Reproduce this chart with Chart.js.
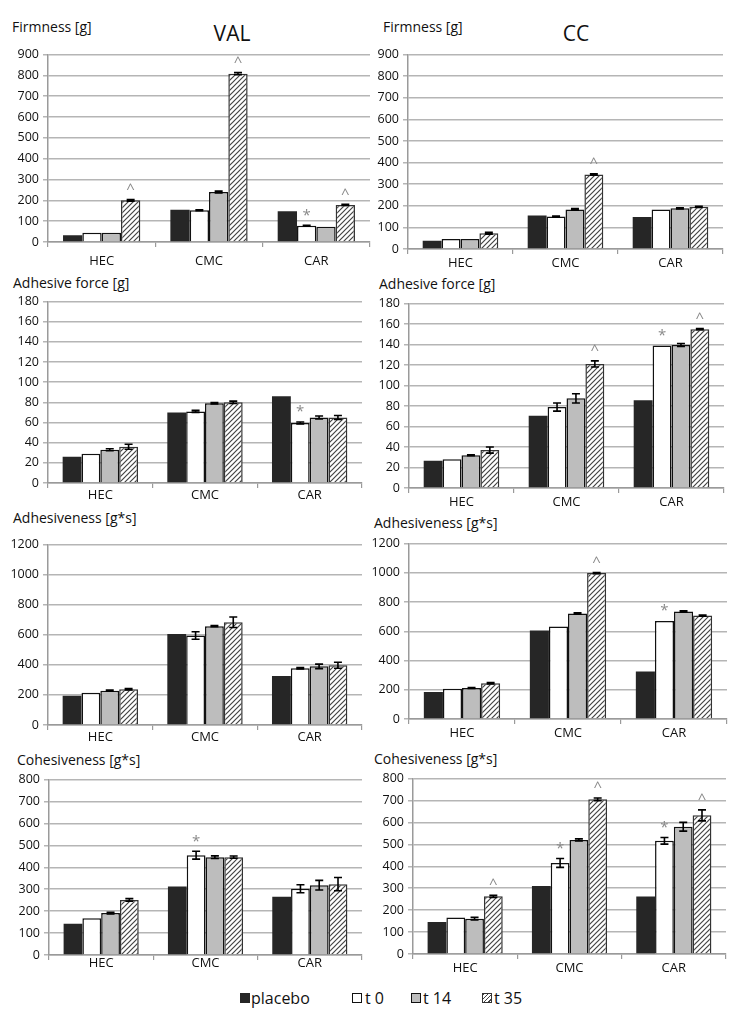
<!DOCTYPE html>
<html>
<head>
<meta charset="utf-8">
<script src="https://cdn.jsdelivr.net/npm/chart.js@4.4.0/dist/chart.umd.min.js"></script>
<style>
body { margin: 0; background: #fff; width: 742px; height: 1019px; position: relative; overflow: hidden; font-family: 'Open Sans', sans-serif; color: #111; }
canvas { position: absolute; }
.lbl { position: absolute; font-size: 14px; line-height: 20px; white-space: nowrap; }
.head { position: absolute; font-size: 21px; line-height: 28px; transform: translateX(-50%); }
.leg { position: absolute; top: 988px; font-size: 16px; line-height: 20px; white-space: nowrap; }
.sw { position: absolute; width: 10px; height: 10px; top: 993px; box-sizing: border-box; }
</style>
</head>
<body>

<div class="head" style="left:232px;top:19px">VAL</div>
<div class="head" style="left:576px;top:19px">CC</div>

<div class="lbl" style="left:12px;top:17px">Firmness [g]</div>
<div class="lbl" style="left:383px;top:17px">Firmness [g]</div>
<div class="lbl" style="left:13px;top:273px">Adhesive force [g]</div>
<div class="lbl" style="left:379px;top:274px">Adhesive force [g]</div>
<div class="lbl" style="left:13px;top:508px">Adhesiveness [g*s]</div>
<div class="lbl" style="left:374px;top:513px">Adhesiveness [g*s]</div>
<div class="lbl" style="left:17px;top:750px">Cohesiveness [g*s]</div>
<div class="lbl" style="left:374px;top:749px">Cohesiveness [g*s]</div>

<canvas id="c1"></canvas>
<canvas id="c2"></canvas>
<canvas id="c3"></canvas>
<canvas id="c4"></canvas>
<canvas id="c5"></canvas>
<canvas id="c6"></canvas>
<canvas id="c7"></canvas>
<canvas id="c8"></canvas>

<div class="sw" style="left:240px;background:#262626"></div>
<div class="leg" style="left:251px">placebo</div>
<div class="sw" style="left:352px;background:#fff;border:1.5px solid #111"></div>
<div class="leg" style="left:365px">t 0</div>
<div class="sw" style="left:411px;background:#bdbdbd;border:1.5px solid #111"></div>
<div class="leg" style="left:423px">t 14</div>
<div class="sw" style="left:482px;border:1.5px solid #333;background:repeating-linear-gradient(135deg,#444 0 1px,#fff 1px 3px)"></div>
<div class="leg" style="left:494px">t 35</div>

<script>
const categories = ['HEC', 'CMC', 'CAR'];
const seriesNames = ['placebo', 't 0', 't 14', 't 35'];

// values: rows are placebo, t 0, t 14, t 35
const valFirmness = [[33, 155, 148], [45, 152, 78], [45, 240, 73], [200, 808, 178]];
const valFirmnessErr = [[0, 0, 0], [0, 2, 2], [0, 4, 0], [4, 5, 3]];
const valFirmnessMarks = [['', '', ''], ['', '', '*'], ['', '', ''], ['^', '^', '^']];

const ccFirmness = [[38, 155, 148], [46, 150, 183], [46, 183, 188], [73, 345, 195]];
const ccFirmnessErr = [[0, 0, 0], [0, 3, 0], [0, 4, 3], [4, 3, 3]];
const ccFirmnessMarks = [['', '', ''], ['', '', ''], ['', '', ''], ['', '^', '']];

const valAdhForce = [[26, 70, 86], [29, 71, 59.5], [33, 79, 65], [36, 80, 65]];
const valAdhForceErr = [[0, 0, 0], [0, 1, 1], [1, 0.7, 1.5], [2.5, 1.2, 2]];
const valAdhForceMarks = [['', '', ''], ['', '', '*'], ['', '', ''], ['', '', '']];

const ccAdhForce = [[26.5, 70.5, 85.5], [28, 79, 139], [32, 87.5, 139.5], [37, 121, 155]];
const ccAdhForceErr = [[0, 0, 0], [0, 4, 0], [0.5, 4.5, 1.5], [3, 3, 0.6]];
const ccAdhForceMarks = [['', '', ''], ['', '', '*'], ['', '', ''], ['', '^', '^']];

const valAdhesiveness = [[195, 605, 325], [215, 595, 377], [228, 657, 390], [238, 683, 397]];
const valAdhesivenessErr = [[0, 0, 0], [0, 25, 5], [4, 4, 15], [5, 35, 20]];
const valAdhesivenessMarks = [['', '', ''], ['', '', ''], ['', '', ''], ['', '', '']];

const ccAdhesiveness = [[185, 605, 325], [207, 632, 670], [212, 722, 735], [244, 998, 707]];
const ccAdhesivenessErr = [[0, 0, 0], [0, 0, 0], [3, 5, 5], [5, 4, 4]];
const ccAdhesivenessMarks = [['', '', ''], ['', '', '*'], ['', '', ''], ['', '^', '']];

const valCohesiveness = [[143, 312, 266], [168, 455, 302], [191, 446, 318], [251, 446, 323]];
const valCohesivenessErr = [[0, 0, 0], [0, 18, 18], [4, 6, 22], [6, 5, 30]];
const valCohesivenessMarks = [['', '', ''], ['', '*', ''], ['', '', ''], ['', '', '']];

const ccCohesiveness = [[146, 310, 262], [166, 415, 516], [161, 520, 580], [263, 705, 632]];
const ccCohesivenessErr = [[0, 0, 0], [0, 20, 15], [6, 5, 20], [5, 6, 25]];
const ccCohesivenessMarks = [['', '', ''], ['', '*', '*'], ['', '', ''], ['^', '^', '^']];

function hatch() {
    const c = document.createElement('canvas');
    c.width = 5; c.height = 5;
    const g = c.getContext('2d');
    g.fillStyle = '#fff';
    g.fillRect(0, 0, 5, 5);
    g.strokeStyle = '#444';
    g.lineWidth = 1.2;
    g.beginPath();
    g.moveTo(0, 5); g.lineTo(5, 0);
    g.moveTo(-1, 1); g.lineTo(1, -1);
    g.moveTo(4, 6); g.lineTo(6, 4);
    g.stroke();
    return g.createPattern(c, 'repeat');
}

const fills = ['#262626', '#ffffff', '#bdbdbd', hatch()];
const borders = ['#262626', '#111111', '#111111', '#333333'];

// error bars + significance marks
const errorMarks = {
    id: 'errorMarks',
    afterDatasetsDraw(chart) {
        const ctx = chart.ctx;
        const y = chart.scales.y;
        chart.data.datasets.forEach((ds, i) => {
            chart.getDatasetMeta(i).data.forEach((bar, j) => {
                const v = ds.data[j];
                const e = ds.err[j];
                let top = bar.y;
                ctx.save();
                if (e) {
                    const y1 = y.getPixelForValue(v + e);
                    const y2 = y.getPixelForValue(v - e);
                    ctx.strokeStyle = '#000';
                    ctx.lineWidth = 1.6;
                    ctx.beginPath();
                    ctx.moveTo(bar.x, y1); ctx.lineTo(bar.x, y2);
                    ctx.moveTo(bar.x - 4, y1); ctx.lineTo(bar.x + 4, y1);
                    ctx.moveTo(bar.x - 4, y2); ctx.lineTo(bar.x + 4, y2);
                    ctx.stroke();
                    top = Math.min(y1, top);
                }
                if (ds.marks[j]) {
                    ctx.fillStyle = '#8a8a8a';
                    ctx.font = '15px "Open Sans"';
                    ctx.textAlign = 'center';
                    ctx.textBaseline = 'middle';
                    ctx.fillText(ds.marks[j], bar.x, top - 10);
                }
                ctx.restore();
            });
        });
    }
};

const panels = [
    { id: 'c1', values: valFirmness, err: valFirmnessErr, marks: valFirmnessMarks, max: 900, step: 100, l: 48, r: 370, t: 53, b: 242, lab: 19 },
    { id: 'c2', values: ccFirmness, err: ccFirmnessErr, marks: ccFirmnessMarks, max: 900, step: 100, l: 408, r: 723, t: 53, b: 249, lab: 14 },
    { id: 'c3', values: valAdhForce, err: valAdhForceErr, marks: valAdhForceMarks, max: 180, step: 20, l: 48, r: 362, t: 300, b: 483, lab: 12 },
    { id: 'c4', values: ccAdhForce, err: ccAdhForceErr, marks: ccAdhForceMarks, max: 180, step: 20, l: 409, r: 724, t: 302, b: 488, lab: 14 },
    { id: 'c5', values: valAdhesiveness, err: valAdhesivenessErr, marks: valAdhesivenessMarks, max: 1200, step: 200, l: 48, r: 362, t: 543, b: 725, lab: 12 },
    { id: 'c6', values: ccAdhesiveness, err: ccAdhesivenessErr, marks: ccAdhesivenessMarks, max: 1200, step: 200, l: 409, r: 727, t: 542, b: 719, lab: 14 },
    { id: 'c7', values: valCohesiveness, err: valCohesivenessErr, marks: valCohesivenessMarks, max: 800, step: 100, l: 49, r: 362, t: 778, b: 955, lab: 8 },
    { id: 'c8', values: ccCohesiveness, err: ccCohesivenessErr, marks: ccCohesivenessMarks, max: 800, step: 100, l: 413, r: 726, t: 777, b: 954, lab: 14 },
];

const yW = 46, padTop = 10, xH = 30;

panels.forEach(p => {
    const cv = document.getElementById(p.id);
    const left = p.l - yW;
    const w = p.r - left + 2;
    const h = (p.b - p.t) + padTop + xH;
    cv.width = w; cv.height = h;
    cv.style.left = left + 'px';
    cv.style.top = (p.t - padTop) + 'px';
    cv.style.width = w + 'px';
    cv.style.height = h + 'px';

    new Chart(cv, {
        type: 'bar',
        data: {
            labels: categories,
            datasets: seriesNames.map((name, i) => ({
                label: name,
                data: p.values[i],
                err: p.err[i],
                marks: p.marks[i],
                backgroundColor: fills[i],
                borderColor: borders[i],
                borderWidth: i === 0 ? 0 : 1.5,
                barPercentage: 1.0,
                categoryPercentage: 0.72,
            }))
        },
        options: {
            responsive: false,
            animation: false,
            devicePixelRatio: 1,
            layout: { padding: { top: padTop, right: 2, left: 0, bottom: 0 } },
            plugins: {
                legend: false,
                tooltip: { enabled: false },
                title: { display: false }
            },
            scales: {
                x: {
                    afterFit: s => { s.height = xH; },
                    grid: {
                        drawOnChartArea: false,
                        drawTicks: true,
                        tickLength: 5,
                        color: '#9a9a9a',
                        lineWidth: 1.2,
                        offset: true
                    },
                    border: { color: '#9a9a9a', width: 1.5 },
                    ticks: {
                        color: '#111',
                        font: { family: 'Open Sans', size: 13 },
                        padding: p.lab - 13
                    }
                },
                y: {
                    min: 0,
                    max: p.max,
                    afterFit: s => { s.width = yW; },
                    grid: {
                        color: '#b5b5b5',
                        lineWidth: 1.5,
                        tickLength: 5
                    },
                    border: { color: '#9a9a9a', width: 1.5 },
                    ticks: {
                        stepSize: p.step,
                        color: '#111',
                        padding: 4,
                        font: { family: 'Open Sans', size: 12.5 },
                        callback: v => String(v)
                    }
                }
            }
        },
        plugins: [errorMarks]
    });
});
</script>
</body>
</html>
